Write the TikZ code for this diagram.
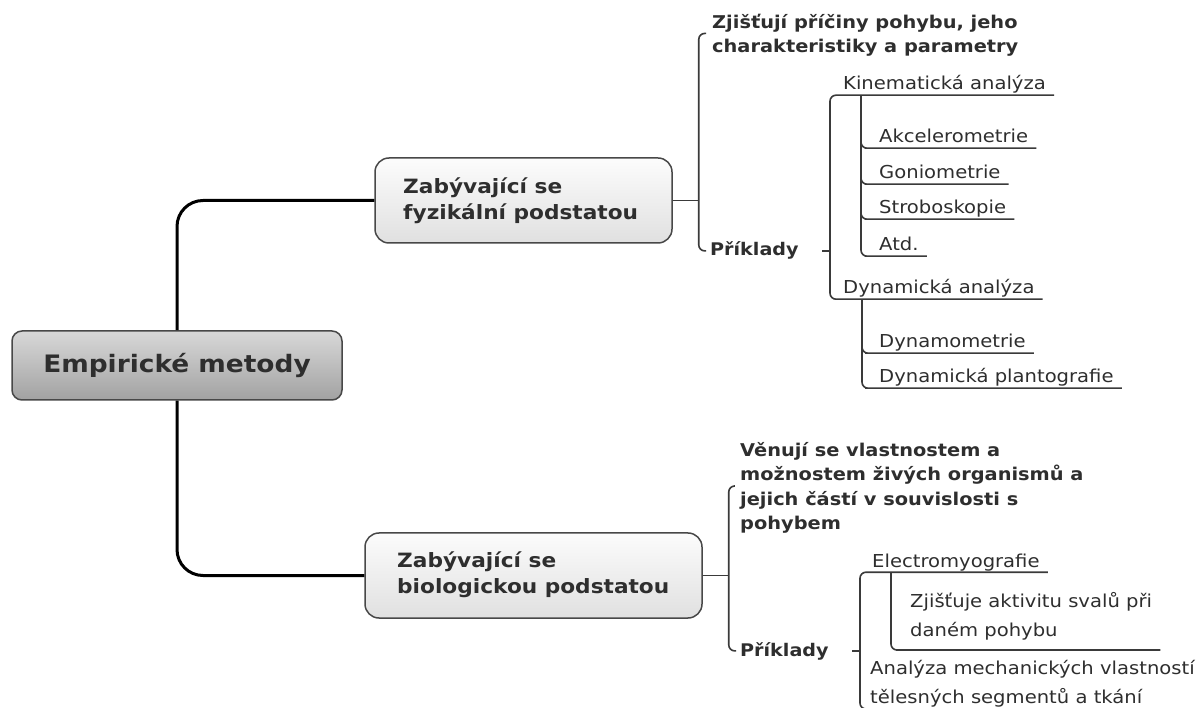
\documentclass[tikz,border=0pt]{standalone}
\usepackage{fontspec}
\setmainfont{DejaVu Sans}[FakeStretch=1.1]
\usetikzlibrary{calc}

\definecolor{ink}{HTML}{2E2E2E}
\definecolor{wire}{HTML}{3A3A3A}
\definecolor{rootTop}{HTML}{D8D8D8}
\definecolor{rootBot}{HTML}{A2A2A2}
\definecolor{boxTop}{HTML}{FCFCFC}
\definecolor{boxBot}{HTML}{E0E0E0}
\definecolor{frame}{HTML}{484848}

\tikzset{
  trunk/.style={line width=3pt, black, rounded corners=26pt},
  conn/.style={line width=1.6pt, wire, rounded corners=6pt},
  rootbox/.style={draw=frame, line width=1.5pt, rounded corners=10pt,
    top color=rootTop, bottom color=rootBot, minimum width=330pt,
    minimum height=69pt, inner sep=0pt,
    font=\fontsize{24}{28}\selectfont\bfseries, text=ink},
  mainbox/.style={draw=frame, line width=1.5pt, rounded corners=14pt,
    top color=boxTop, bottom color=boxBot, minimum height=85pt, inner sep=0pt},
  boxtext/.style={inner sep=0pt, text depth=0pt, align=left, anchor=south west,
    font=\fontsize{19.7}{26}\selectfont\bfseries, text=ink},
  note/.style={inner xsep=6pt, inner ysep=0pt, text depth=0pt, align=left,
    anchor=south west, font=\fontsize{17.6}{24.5}\selectfont\bfseries, text=ink},
  tag/.style={inner xsep=4pt, inner ysep=0pt, anchor=base west,
    font=\fontsize{17.4}{22}\selectfont\bfseries, text=ink},
  leaf/.style={inner xsep=8pt, inner ysep=0pt, text depth=5pt, anchor=base west,
    font=\fontsize{17.8}{29}\selectfont, text=ink},
  leafblock/.style={inner xsep=8pt, inner ysep=0pt, align=left,
    anchor=south west, font=\fontsize{17.8}{29}\selectfont, text=ink},
}

\begin{document}
\begin{tikzpicture}[x=1pt,y=-1pt]
\useasboundingbox (0,0) rectangle (1203,708);
\clip (0,0) rectangle (1203,708);
\fill[white] (0,0) rectangle (1203,708);

% central topic and the two main branches
\node[rootbox] (root) at (177,365.5) {Empirické metody};
\node[mainbox, minimum width=297pt] (b1) at (523.5,200.5) {};
\node[boxtext] (b1t) at (403,220) {Zabývající se\\fyzikální podstatou};
\node[mainbox, minimum width=337pt] (b2) at (533.5,575.5) {};
\node[boxtext] (b2t) at (397,594) {Zabývající se\\biologickou podstatou};

\draw[trunk] (root.north) |- (b1.west);
\draw[trunk] (root.south) |- (b2.west);

% physical branch
\coordinate (j0) at ($(b1.east)+(26,0)$);
\draw[conn] (b1.east) -- (j0);
\node[note] (zj) at (706,53) {Zjišťují příčiny pohybu, jeho\\charakteristiky a parametry};
\node[tag] (pr1) at (706,256) {Příklady};
\draw[conn] (zj.west) -| (j0) |- (pr1.west);

\node[leaf] (kin) at (835,90) {Kinematická analýza};
\node[leaf] (akc) at (871,143) {Akcelerometrie};
\node[leaf] (gon) at (871,179) {Goniometrie};
\node[leaf] (str) at (871,214) {Stroboskopie};
\node[leaf] (atd) at (871,251) {Atd.};
\node[leaf] (dyn) at (835,294) {Dynamická analýza};
\node[leaf] (dnm) at (871,348) {Dynamometrie};
\node[leaf] (dpl) at (871,383) {Dynamická plantografie};

\coordinate (j1) at ([xshift=-5pt]kin.south west |- pr1.west);
\draw[conn] ([xshift=-8pt]j1) -- (j1);
\draw[conn] (kin.south east) -| (j1) |- (dyn.south east);

\foreach \c in {akc,gon,str,atd}
  \draw[conn] ([xshift=26pt]kin.south west) |- (\c.south west) -- (\c.south east);
\foreach \c in {dnm,dpl}
  \draw[conn] ([xshift=27pt]dyn.south west) |- (\c.south west) -- (\c.south east);

% biological branch
\coordinate (j2) at ($(b2.east)+(26,0)$);
\draw[conn] (b2.east) -- (j2);
\node[note] (vn) at (734,530) {Věnují se vlastnostem a\\možnostem živých organismů a\\jejich částí v souvislosti s\\pohybem};
\node[tag] (pr2) at (736,656) {Příklady};
\draw[conn] (vn.west) -| (j2) |- (pr2.west);

\node[leaf] (emg) at (864,567) {Electromyografie};
\node[leafblock, text depth=13pt] (zja) at (902,650) {Zjišťuje aktivitu svalů při\\daném pohybu};
\node[leafblock, text depth=5pt] (an) at (862,709) {Analýza mechanických vlastností\\tělesných segmentů a tkání};

\coordinate (j3) at ([xshift=-4pt]emg.south west |- pr2.west);
\draw[conn] ([xshift=-8pt]j3) -- (j3);
\draw[conn] (emg.south east) -| (j3) |- (an.south east);
\draw[conn] ([xshift=27pt]emg.south west) |- (zja.south west) -- (zja.south east);
\end{tikzpicture}
\end{document}
